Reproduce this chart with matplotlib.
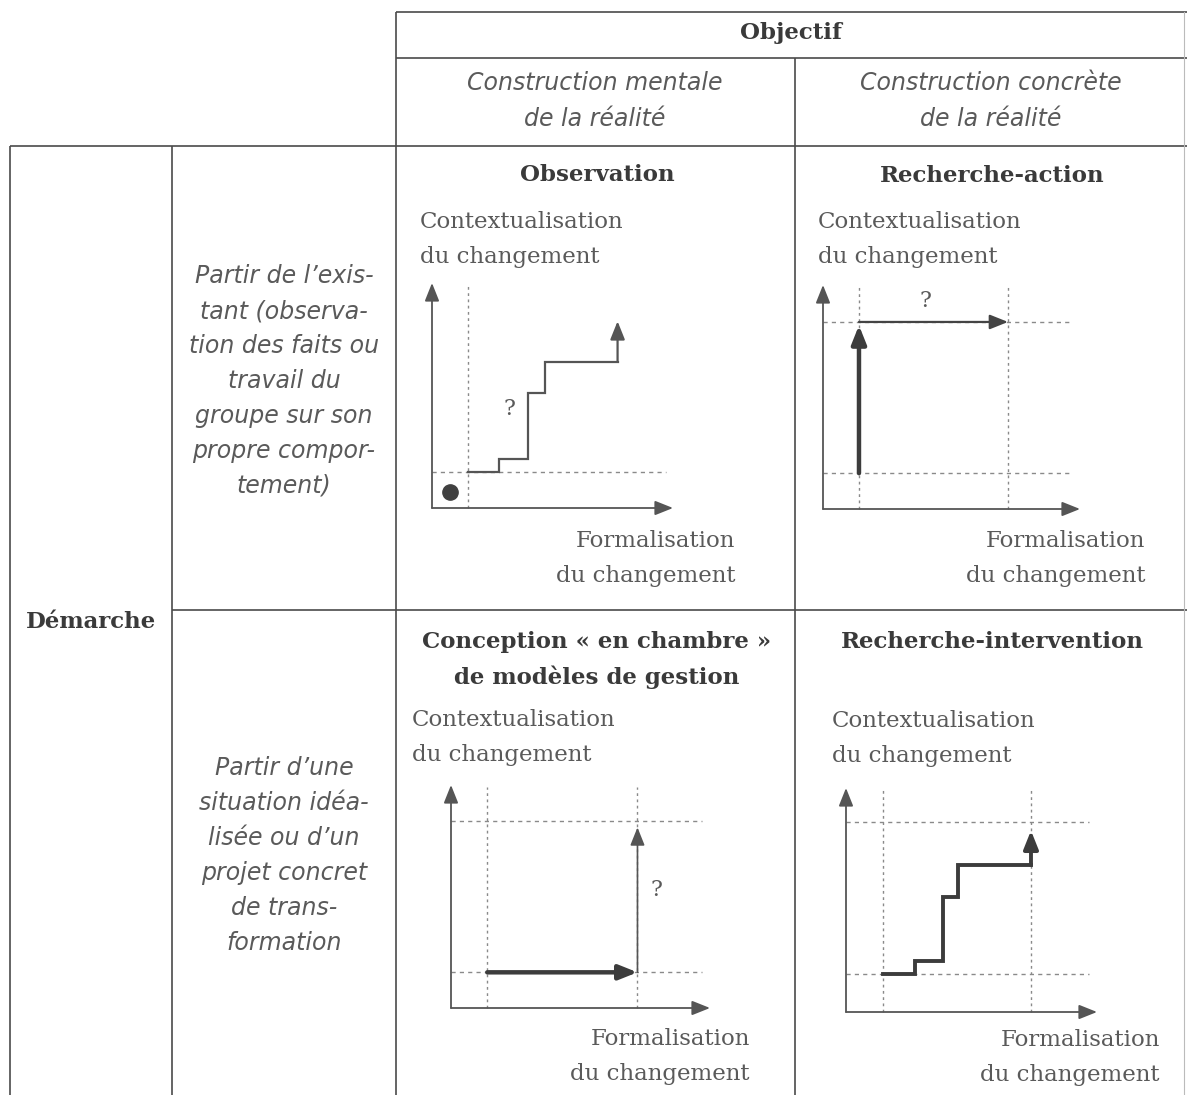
import numpy as np
import matplotlib
matplotlib.use("Agg")
import matplotlib.pyplot as plt

W, H = 1187, 1095

# Texts of the table
header = "Objectif"
col_labels = [["Construction mentale", "de la réalité"],
              ["Construction concrète", "de la réalité"]]
row_header = "Démarche"
row_labels = [["Partir de l\u2019exis-", "tant (observa-", "tion des faits ou",
               "travail du", "groupe sur son", "propre compor-", "tement)"],
              ["Partir d\u2019une", "situation idéa-", "lisée ou d\u2019un",
               "projet concret", "de trans-", "formation"]]
cell_titles = [["Observation"], ["Recherche-action"],
               ["Conception \u00ab en chambre \u00bb", "de modèles de gestion"],
               ["Recherche-intervention"]]
y_label = ["Contextualisation", "du changement"]
x_label = ["Formalisation", "du changement"]

# Mini-chart values (axis frame 0..100, arrow tips at 100)
obs_x = [15, 28, 40, 47, 77]
obs_y = [16, 22, 51, 65, 83]
obs_guides_x = [15]
obs_guides_y = [16]
obs_dot = (7.5, 7)
obs_q = (32, 44)

ra_guides_x = [14, 72]
ra_guides_y = [16, 83.5]
ra_up = (14, 16, 82)        # x, from y, to y
ra_right = (83.5, 14, 72)   # y, from x, to x
ra_q = (40, 93)

co_guides_x = [14, 72]
co_guides_y = [16, 84]
co_right = (16, 14, 72)
co_up = (72, 16, 81)
co_q = (79.5, 53)

ri_x = [14.7, 27.5, 38.6, 44.6, 73.7]
ri_y = [17, 22.8, 51.3, 65.6, 81]
ri_guides_x = [14.7, 73.7]
ri_guides_y = [17, 85]

SERIF = ["DejaVu Serif"]
SANS = ["DejaVu Sans"]
LINE = "#4a4a4a"
TXT = "#3a3a3a"
GREY = "#5a5a5a"
GUIDE = "#8a8a8a"

fig = plt.figure(figsize=(W / 100, H / 100), dpi=100)
ax = fig.add_axes([0, 0, 1, 1])
ax.set_xlim(0, W)
ax.set_ylim(H, 0)
ax.axis("off")

# table grid
tl = dict(color=LINE, lw=1.2, solid_capstyle="butt")
ax.plot([396, W], [12, 12], **tl)
ax.plot([396, W], [58, 58], **tl)
ax.plot([10, W], [146, 146], **tl)
ax.plot([172, W], [610, 610], **tl)
ax.plot([10, 10], [146, H], **tl)
ax.plot([172, 172], [146, H], **tl)
ax.plot([396, 396], [12, H], **tl)
ax.plot([795, 795], [58, H], **tl)
ax.plot([1184, 1184], [12, H], color="#bbbbbb", lw=0.8)

# headers
ax.text(791, 33, header, family=SERIF, weight="bold", fontsize=16.5,
        color=TXT, ha="center", va="center")
for cx, lines in zip([595, 991], col_labels):
    for i, s in enumerate(lines):
        ax.text(cx, 83 + 36 * i, s, family=SANS, style="italic", fontsize=17,
                color=GREY, ha="center", va="center")
ax.text(91, 622, row_header, family=SERIF, weight="bold", fontsize=16.5,
        color=TXT, ha="center", va="center")
for y0, lines in zip([276, 768], row_labels):
    for i, s in enumerate(lines):
        ax.text(284, y0 + 35 * i, s, family=SANS, style="italic", fontsize=17,
                color=GREY, ha="center", va="center")

# cell titles
for (cx, cy), lines in zip([(597, 175), (992, 176), (597, 642), (992, 642)], cell_titles):
    for i, s in enumerate(lines):
        ax.text(cx, cy + 35 * i, s, family=SERIF, weight="bold", fontsize=16.5,
                color=TXT, ha="center", va="center")

# axis labels
for (lx, ly) in [(420, 222), (818, 222), (412, 720), (832, 721)]:
    for i, s in enumerate(y_label):
        ax.text(lx, ly + 35 * i, s, family=SERIF, fontsize=16.5,
                color=GREY, ha="left", va="center")
for (rx, ry) in [(735, 541), (1145, 541), (750, 1039), (1160, 1040)]:
    for i, s in enumerate(x_label):
        ax.text(rx, ry + 35 * i, s, family=SERIF, fontsize=16.5,
                color=GREY, ha="right", va="center")


def panel(ox, oy, ex, ty):
    a = fig.add_axes([ox / W, (H - oy) / H, (ex - ox) / W, (oy - ty) / H])
    a.set_xlim(0, 100)
    a.set_ylim(0, 100)
    a.axis("off")
    return a


def arrow(a, p0, p1, lw, color=LINE, hl=0.55, hw=0.22):
    a.annotate("", xy=p1, xytext=p0, annotation_clip=False,
               arrowprops=dict(arrowstyle=f"-|>,head_length={hl},head_width={hw}",
                               lw=lw, color=color, shrinkA=0, shrinkB=0,
                               mutation_scale=20))


def frame(a, gx, gy):
    for x in gx:
        a.plot([x, x], [0, 99], ls=(0, (2, 2.5)), color=GUIDE, lw=1, clip_on=False)
    for y in gy:
        a.plot([0, 97], [y, y], ls=(0, (3, 3)), color=GUIDE, lw=1, clip_on=False)
    arrow(a, (0, 0), (100, 0), 1.3, color="#555555")
    arrow(a, (0, 0), (0, 100), 1.3, color="#555555")


def stairs(a, xs, ys, lw, color):
    px, py = [xs[0]], [ys[0]]
    for i in range(1, len(xs) - 1):
        px += [xs[i], xs[i]]
        py += [ys[i - 1], ys[i]]
    px.append(xs[-1])
    py.append(ys[-2])
    a.plot(px, py, color=color, lw=lw, solid_joinstyle="miter", clip_on=False)
    arrow(a, (xs[-1], ys[-2]), (xs[-1], ys[-1]), lw, color=color)


# Observation
a1 = panel(432, 508, 673, 283)
frame(a1, obs_guides_x, obs_guides_y)
stairs(a1, obs_x, obs_y, 1.6, "#555555")
a1.plot(*obs_dot, "o", ms=11, color="#404040", clip_on=False)
a1.text(*obs_q, "?", family=SERIF, fontsize=16, color=GREY, ha="center", va="center")

# Recherche-action
a2 = panel(823, 509, 1080, 285)
frame(a2, ra_guides_x, ra_guides_y)
arrow(a2, (ra_up[0], ra_up[1]), (ra_up[0], ra_up[2]), 3.2, color="#3c3c3c")
arrow(a2, (ra_right[1], ra_right[0]), (ra_right[2], ra_right[0]), 1.6, color="#444444")
a2.text(*ra_q, "?", family=SERIF, fontsize=16, color=GREY, ha="center", va="center")

# Conception en chambre
a3 = panel(451, 1008, 710, 785)
frame(a3, co_guides_x, co_guides_y)
arrow(a3, (co_right[1], co_right[0]), (co_right[2], co_right[0]), 3.2, color="#3c3c3c")
arrow(a3, (co_up[0], co_up[1]), (co_up[0], co_up[2]), 1.2, color="#555555")
a3.text(*co_q, "?", family=SERIF, fontsize=16, color=GREY, ha="center", va="center")

# Recherche-intervention
a4 = panel(846, 1012, 1097, 788)
frame(a4, ri_guides_x, ri_guides_y)
stairs(a4, ri_x, ri_y, 2.8, "#3c3c3c")

fig.savefig("out.png", dpi=100, facecolor="white")
